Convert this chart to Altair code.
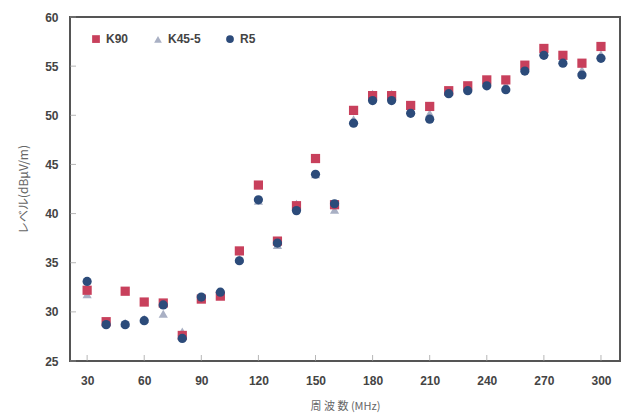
import altair as alt
import pandas as pd

freq = list(range(30, 301, 10))
k90 = [32.2, 29.0, 32.1, 31.0, 30.9, 27.6, 31.3, 31.6, 36.2, 42.9, 37.2, 40.8, 45.6, 40.9,
       50.5, 52.0, 52.0, 51.0, 50.9, 52.5, 53.0, 53.6, 53.6, 55.1, 56.8, 56.1, 55.3, 57.0]
k45 = [31.8, 29.0, 28.9, 29.3, 29.8, 28.0, 31.4, 31.8, 35.4, 41.3, 36.8, 41.0, 44.0, 40.4,
       49.6, 52.2, 52.2, 50.6, 50.2, 52.4, 52.8, 53.3, 53.1, 54.8, 56.5, 55.6, 54.6, 56.2]
r5 = [33.1, 28.7, 28.7, 29.1, 30.7, 27.3, 31.5, 32.0, 35.2, 41.4, 37.0, 40.3, 44.0, 41.0,
      49.2, 51.5, 51.5, 50.2, 49.6, 52.2, 52.5, 53.0, 52.6, 54.5, 56.1, 55.3, 54.1, 55.8]
series_names = ["K90", "K45-5", "R5"]
x_ticks = [30, 60, 90, 120, 150, 180, 210, 240, 270, 300]
y_ticks = [25, 30, 35, 40, 45, 50, 55, 60]

rows = []
# draw order: K45-5 behind, then K90, R5 on top
for name, vals in [("K45-5", k45), ("K90", k90), ("R5", r5)]:
    for f, v in zip(freq, vals):
        rows.append({"freq": f, "level": v, "series": name})
df = pd.DataFrame(rows)

W, H = 550, 344
font = "Liberation Sans"
label_color = "#444444"

xscale = alt.Scale(domain=[21, 310], nice=False, zero=False)
yscale = alt.Scale(domain=[25, 60], nice=False, zero=False)

points = alt.Chart(df).mark_point(filled=True, size=85, opacity=1).encode(
    x=alt.X("freq:Q", scale=xscale,
            axis=alt.Axis(values=x_ticks, title="周  波  数  (MHz)", grid=False, domain=False,
                          ticks=False, labelPadding=14, labelFont=font, labelFontSize=12,
                          labelFontWeight="bold", labelColor=label_color,
                          titleFont="Noto Sans CJK JP", titleFontSize=11,
                          titleFontWeight="normal", titleColor="#666666", titlePadding=14)),
    y=alt.Y("level:Q", scale=yscale,
            axis=alt.Axis(values=y_ticks, title="レベル(dBμV/m)", grid=False, domain=False,
                          ticks=False, labelPadding=12, labelFont=font, labelFontSize=12,
                          labelFontWeight="bold", labelColor=label_color,
                          titleFont="Noto Sans CJK JP", titleFontSize=12,
                          titleFontWeight="normal", titleColor="#666666", titlePadding=14)),
    color=alt.Color("series:N",
                    scale=alt.Scale(domain=series_names, range=["#c8405c", "#a9b0c4", "#2c4b7a"]),
                    legend=alt.Legend(title=None, orient="none", direction="horizontal",
                                      legendX=20, legendY=16, columnPadding=22,
                                      labelFont=font, labelFontSize=12, labelFontWeight="bold",
                                      labelColor=label_color, symbolSize=60, symbolOpacity=1)),
    shape=alt.Shape("series:N",
                    scale=alt.Scale(domain=series_names, range=["square", "triangle-up", "circle"])),
)

xt = pd.DataFrame({"v": x_ticks})
yt = pd.DataFrame({"v": y_ticks})
xtick = alt.Chart(xt).mark_tick(color="#999999", size=6, thickness=1, orient="vertical").encode(
    x=alt.X("v:Q", scale=xscale), y=alt.value(H - 3))
ytick = alt.Chart(yt).mark_tick(color="#999999", size=6, thickness=1, orient="horizontal").encode(
    y=alt.Y("v:Q", scale=yscale), x=alt.value(3))

chart = alt.layer(xtick, ytick, points).properties(
    width=W, height=H,
    autosize=alt.AutoSizeParams(type="none"),
    padding={"left": 70, "top": 17, "right": 9, "bottom": 57},
    background="white",
).configure_view(stroke="#555555", strokeWidth=2)

chart.save("out.html", embed_options={"renderer": "svg", "actions": False})
